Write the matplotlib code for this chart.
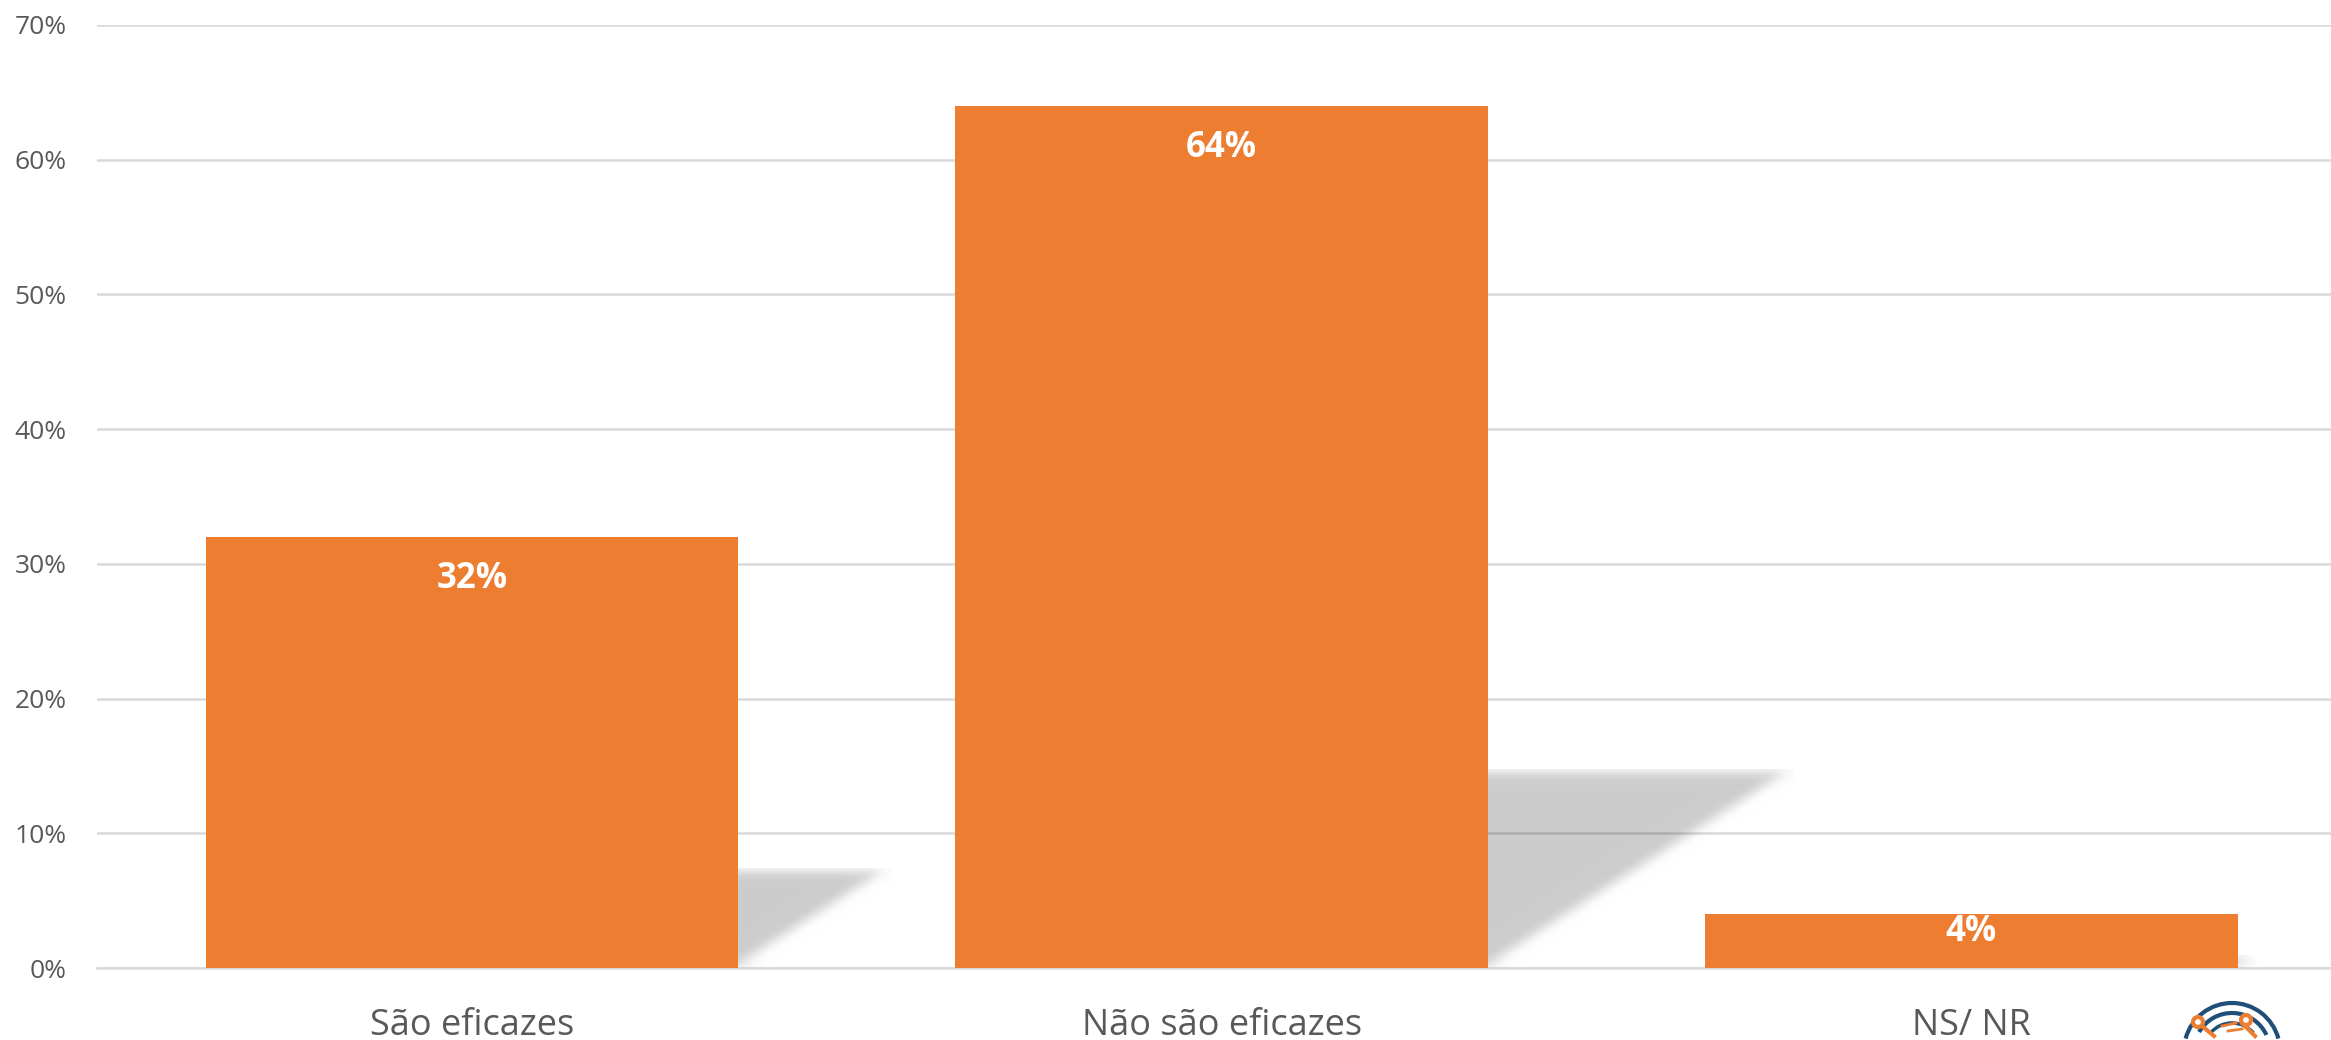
import numpy as np
import matplotlib
matplotlib.use("Agg")
import matplotlib.pyplot as plt
from matplotlib.patches import Polygon, Arc, Circle

# dados do gráfico
categorias = ["São eficazes", "Não são eficazes", "NS/ NR"]
valores = [32, 64, 4]
rotulos = ["32%", "64%", "4%"]
ticks_y = [0, 10, 20, 30, 40, 50, 60, 70]

laranja = "#ED7D31"
cinza_grade = "#D9D9D9"
cinza_texto = "#595959"

plt.rcParams["font.family"] = ["Open Sans", "DejaVu Sans"]


def desfocar(img, dpi, raio=6):
    # blur simples (box blur repetido) para a sombra
    out = img.copy()
    for _ in range(3):
        for eixo in (0, 1):
            k = np.ones(2 * raio + 1) / (2 * raio + 1)
            out = np.apply_along_axis(lambda m: np.convolve(m, k, mode="same"), eixo, out)
    return out, 0, 0


fig = plt.figure(figsize=(23.31, 10.4), dpi=100)
ax = fig.add_axes([0.0416, 0.0692, 0.965, 0.9068])

x = np.arange(len(categorias))
largura = 0.71
barras = ax.bar(x, valores, width=largura, color=laranja, zorder=3)

# sombras em perspectiva atrás das barras
for xi, v in zip(x, valores):
    dx = v * 0.0064
    h = v * 0.23
    esq, dir_ = xi - largura / 2, xi + largura / 2
    sombra = Polygon([(esq, 0), (dir_, 0), (dir_ + dx, h), (esq + dx, h)],
                     closed=True, facecolor="black", alpha=0.2, edgecolor="none", zorder=2)
    sombra.set_agg_filter(desfocar)
    ax.add_patch(sombra)

for b, r in zip(barras, rotulos):
    topo = b.get_height()
    # rótulo dentro da barra, junto ao topo (limitado em barras baixas)
    ax.text(b.get_x() + b.get_width() / 2, topo - min(3.1, topo / 3), r,
            ha="center", va="center", color="white", fontsize=25, fontweight="bold", zorder=4)

ax.set_xlim(-0.5, 2.5)
ax.set_ylim(0, 70)
ax.set_yticks(ticks_y)
ax.set_yticklabels([f"{t}%" for t in ticks_y], color=cinza_texto, fontsize=19)
ax.set_xticks(x)
ax.set_xticklabels(categorias, color=cinza_texto, fontsize=26)
ax.tick_params(axis="both", length=0)
ax.tick_params(axis="y", pad=22)
ax.tick_params(axis="x", pad=29)
ax.yaxis.grid(True, color=cinza_grade, linewidth=1.8, zorder=1)
ax.set_axisbelow(True)
for lado in ("top", "right", "left"):
    ax.spines[lado].set_visible(False)
ax.spines["bottom"].set_color(cinza_grade)
ax.spines["bottom"].set_linewidth(1.8)

# logotipo parcial no canto inferior direito
logo = fig.add_axes([2150 / 2331, 0, 181 / 2331, 80 / 1040])
logo.set_xlim(0, 181)
logo.set_ylim(0, 80)
logo.axis("off")
logo.add_patch(Arc((82, -11), 96, 96, theta1=15, theta2=165, color="#1F4E79", linewidth=3))
logo.add_patch(Arc((82, -11), 76, 76, theta1=25, theta2=150, color="#1F4E79", linewidth=3))
logo.add_patch(Arc((82, -11), 56, 56, theta1=40, theta2=140, color="#1F4E79", linewidth=2.5))
logo.plot([52, 64], [14, 4], color=laranja, linewidth=3)
logo.plot([93, 105], [16, 4], color=laranja, linewidth=3)
logo.plot([72, 86], [14, 17], color=laranja, linewidth=2)
logo.plot([78, 92], [9, 11], color=laranja, linewidth=2)
logo.add_patch(Circle((48, 18), 5, facecolor="white", edgecolor=laranja, linewidth=3, zorder=3))
logo.add_patch(Circle((96, 20), 5, facecolor="white", edgecolor=laranja, linewidth=3, zorder=3))

fig.savefig("out.png", dpi=100)
